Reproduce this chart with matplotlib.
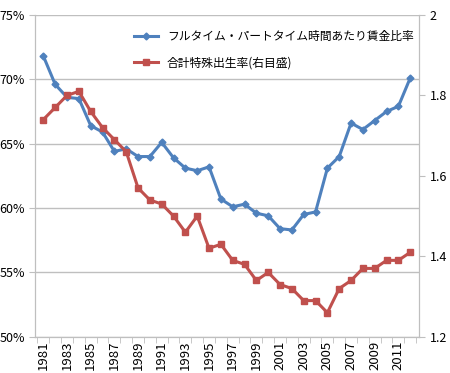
import matplotlib.pyplot as plt
from matplotlib.ticker import FuncFormatter

plt.rcParams['font.family'] = ['Noto Sans CJK JP', 'DejaVu Sans']

years = list(range(1981, 2013))
wage_ratio = [71.8, 69.6, 68.6, 68.5, 66.4, 65.9, 64.4, 64.6, 64.0, 64.0,
              65.1, 63.9, 63.1, 62.9, 63.2, 60.7, 60.1, 60.3, 59.6, 59.4,
              58.4, 58.3, 59.5, 59.7, 63.1, 64.0, 66.6, 66.1, 66.8, 67.5,
              67.9, 70.1]
fertility = [1.74, 1.77, 1.80, 1.81, 1.76, 1.72, 1.69, 1.66, 1.57, 1.54,
             1.53, 1.50, 1.46, 1.50, 1.42, 1.43, 1.39, 1.38, 1.34, 1.36,
             1.33, 1.32, 1.29, 1.29, 1.26, 1.32, 1.34, 1.37, 1.37, 1.39,
             1.39, 1.41]
label_wage = 'フルタイム・パートタイム時間あたり賃金比率'
label_fert = '合計特殊出生率(右目盛)'

blue = '#4F81BD'
red = '#C0504D'
grey = '#BFBFBF'

fig = plt.figure(figsize=(4.5, 3.73), dpi=100)
ax = fig.add_axes([0.078, 0.097, 0.852, 0.863])
ax2 = ax.twinx()

l1, = ax.plot(years, wage_ratio, color=blue, lw=2.2, marker='D', ms=3.5, label=label_wage)
l2, = ax2.plot(years, fertility, color=red, lw=2.2, marker='s', ms=5, label=label_fert)

ax.set_ylim(50, 75)
ax.set_yticks(range(50, 76, 5))
ax.yaxis.set_major_formatter(FuncFormatter(lambda v, p: '%d%%' % v))
ax2.set_ylim(1.2, 2.0)
ax2.set_yticks([1.2, 1.4, 1.6, 1.8, 2.0])
ax2.set_yticklabels(['1.2', '1.4', '1.6', '1.8', '2'])

ax.set_xlim(1980.3, 2012.7)
ax.set_xticks(years)
ax.set_xticklabels([str(y) if y % 2 == 1 else '' for y in years], rotation=90)
ax.set_xticks([y - 0.5 for y in years] + [2012.5], minor=True)

ax.grid(axis='y', color=grey, lw=1)
ax.set_axisbelow(True)
for a in (ax, ax2):
    a.spines['top'].set_visible(False)
    for s in ('left', 'right', 'bottom'):
        a.spines[s].set_color(grey)
    a.tick_params(colors=grey, labelcolor='black', labelsize=9, length=4)
ax.tick_params(axis='x', which='major', length=0, pad=3, labelsize=9.5)
ax.tick_params(axis='x', which='minor', length=4, color=grey)
ax2.tick_params(axis='y', pad=4)

ax2.legend([l1, l2], [label_wage, label_fert], loc='upper left',
           bbox_to_anchor=(0.23, 0.985), frameon=False, fontsize=8.5,
           handlelength=2, labelspacing=1.1)

fig.savefig('out.png', dpi=100)
